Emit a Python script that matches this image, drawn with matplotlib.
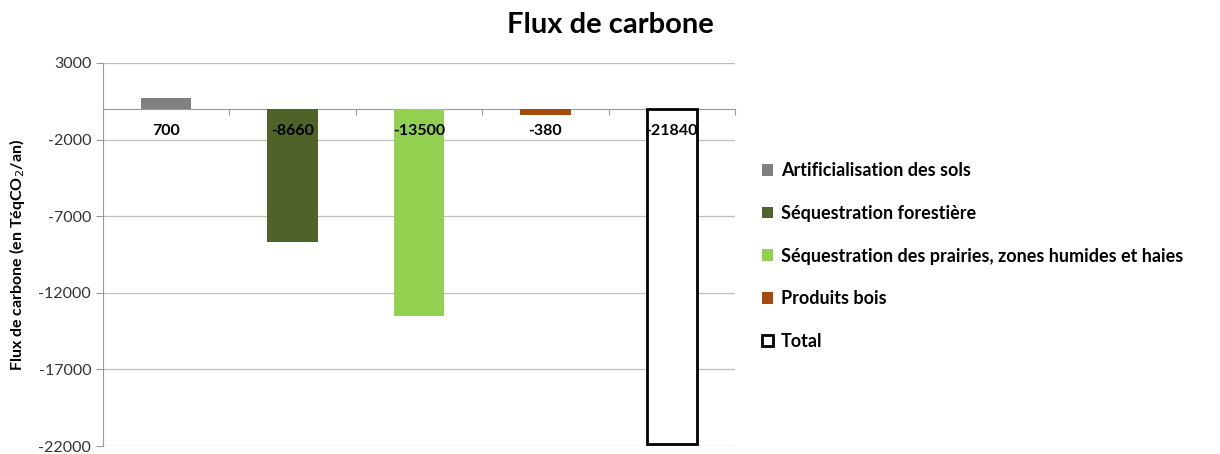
import matplotlib
matplotlib.use("Agg")
import matplotlib.pyplot as plt
from matplotlib.patches import Patch

categories = ["Artificialisation des sols", "Séquestration forestière",
              "Séquestration des prairies, zones humides et haies",
              "Produits bois", "Total"]
values = [700, -8660, -13500, -380, -21840]
labels = ["700", "-8660", "-13500", "-380", "-21840"]
colors = ["#808080", "#4f6228", "#92d050", "#a5490c", "white"]
edges = ["none", "none", "none", "none", "black"]
yticks = [3000, -2000, -7000, -12000, -17000, -22000]

plt.rcParams['font.family'] = ['Lato', 'DejaVu Sans']

fig = plt.figure(figsize=(12.2, 4.54), dpi=100)
ax = fig.add_axes([103/1220, 1-446/454, (735-103)/1220, (446-63)/454])

for i, (v, c, e) in enumerate(zip(values, colors, edges)):
    ax.bar(i, v, width=0.4, color=c, edgecolor=e, linewidth=2 if e != "none" else 0,
           zorder=3, label=categories[i])

for i, t in enumerate(labels):
    ax.text(i, -1450, t, ha='center', va='center', fontsize=11.5, fontweight='bold', zorder=4)

ax.set_xlim(-0.5, 4.5)
ax.set_ylim(-22000, 3000)
ax.set_yticks(yticks)
ax.set_yticklabels([str(t) for t in yticks], fontsize=11.5, color="#333333")
ax.yaxis.grid(True, color="#bfbfbf", linewidth=0.9, zorder=0)
ax.set_axisbelow(True)
ax.tick_params(axis='y', length=5, color="#999999", direction='out')

ax.spines['top'].set_visible(False)
ax.spines['right'].set_visible(False)
ax.spines['left'].set_color("#999999")
ax.spines['bottom'].set_position(('data', 0))
ax.spines['bottom'].set_color("#999999")
ax.set_xticks([-0.5, 0.5, 1.5, 2.5, 3.5, 4.5])
ax.set_xticklabels([])
ax.tick_params(axis='x', length=4, color="#999999", direction='out')

ax.set_ylabel("Flux de carbone (en TéqCO$_2$/an)", fontsize=11.5, fontweight='bold')
ax.yaxis.set_label_coords(-0.12, 0.5)

fig.text(0.5, 1-25/454, "Flux de carbone", ha='center', va='center', fontsize=21, fontweight='bold')

handles = [Patch(facecolor=c, edgecolor=(e if e != "none" else c), linewidth=(2 if e != "none" else 0))
           for c, e in zip(colors, edges)]
leg = fig.legend(handles, categories, loc='upper left', bbox_to_anchor=(746/1220, 1-146/454),
                 frameon=False, prop={'weight': 'bold', 'size': 13},
                 handlelength=0.6, handleheight=0.6, handletextpad=0.45, labelspacing=1.42)

fig.savefig("out.png", dpi=100)
